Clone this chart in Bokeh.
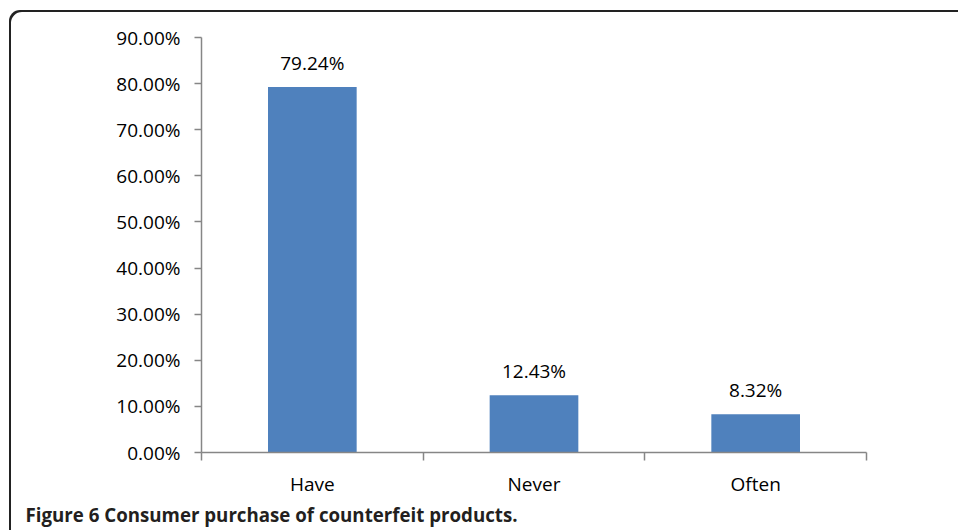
from bokeh.plotting import figure
from bokeh.models import (Range1d, FixedTicker, PrintfTickFormatter, ColumnDataSource,
                          LabelSet, Title)
from bokeh.core.properties import value
from bokeh.embed import file_html
from bokeh.resources import INLINE

categories = ["Have", "Never", "Often"]
values = [79.24, 12.43, 8.32]
value_labels = ["79.24%", "12.43%", "8.32%"]
y_ticks = [0, 10, 20, 30, 40, 50, 60, 70, 80, 90]
caption = "Figure 6 Consumer purchase of counterfeit products."

FONT = "Open Sans"
AXIS_COLOR = "#868686"
BAR_COLOR = "#4F81BD"

centers = [i + 0.5 for i in range(len(categories))]
bounds = list(range(len(categories) + 1))

p = figure(width=949, height=520, output_backend="svg", toolbar_location=None,
           x_range=Range1d(0, len(categories)), y_range=Range1d(0, 90),
           min_border_left=192, min_border_right=92, min_border_top=27, min_border_bottom=78)

p.background_fill_color = "white"
p.border_fill_color = None
p.outline_line_color = None
p.grid.visible = False
# rounded panel frame (top and left edges), as in the source figure box
p.styles = {"margin-left": "9px", "margin-top": "10px",
            "border-top-left-radius": "11px",
            "box-shadow": "inset 2px 2px 0 0 #222222",
            "background-color": "white"}

src = ColumnDataSource(dict(x=centers, top=values, label=value_labels, cat=categories))
p.vbar(x="x", top="top", bottom=0, width=0.4, source=src, fill_color=BAR_COLOR,
       line_color=None)

labels = LabelSet(x="x", y="top", text="label", source=src, text_align="center",
                  text_baseline="alphabetic", y_offset=17, text_font=value(FONT),
                  text_font_size=value("19px"), text_color="black")
p.add_layout(labels)

# x axis: boundary ticks (minor), category labels at centers
xa = p.xaxis[0]
xa.ticker = FixedTicker(ticks=centers, minor_ticks=bounds)
xa.major_label_overrides = {c: cat for c, cat in zip(centers, categories)}
xa.major_tick_out = 0
xa.major_tick_in = 0
xa.minor_tick_out = 8
xa.minor_tick_in = 0
xa.minor_tick_line_color = AXIS_COLOR
xa.axis_line_color = AXIS_COLOR
xa.axis_line_width = 1.5
xa.minor_tick_line_width = 1.5
xa.major_label_text_font = FONT
xa.major_label_text_font_size = "19px"
xa.major_label_text_color = "black"
xa.major_label_standoff = 10

ya = p.yaxis[0]
ya.ticker = FixedTicker(ticks=y_ticks)
ya.formatter = PrintfTickFormatter(format="%.2f%%")
ya.major_tick_out = 7
ya.major_tick_in = 0
ya.minor_tick_out = 0
ya.minor_tick_in = 0
ya.major_tick_line_color = AXIS_COLOR
ya.axis_line_color = AXIS_COLOR
ya.axis_line_width = 1.5
ya.major_tick_line_width = 1.5
ya.major_label_text_font = FONT
ya.major_label_text_font_size = "19px"
ya.major_label_text_color = "black"
ya.major_label_standoff = 14

# caption below the chart
cap = Title(text=caption, align="left", offset=-176, standoff=0,
            text_font=FONT, text_font_size="18.7px", text_font_style="bold",
            text_color="#231f20")
p.add_layout(cap, "below")

open("out.html", "w").write(file_html(p, INLINE))
